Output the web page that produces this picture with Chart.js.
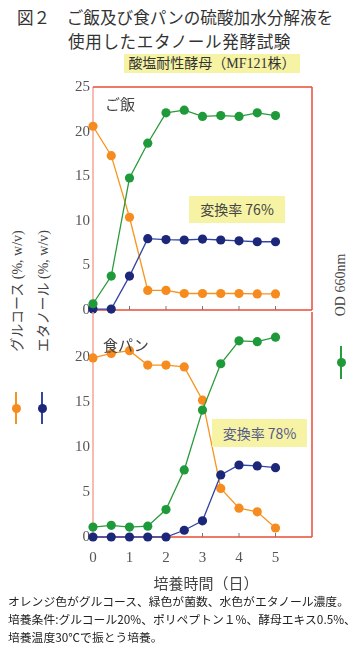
<!DOCTYPE html>
<html lang="ja">
<head>
<meta charset="utf-8">
<script src="https://cdn.jsdelivr.net/npm/chart.js@4.4.0/dist/chart.umd.min.js"></script>
<style>
    body { margin: 0; background: #fff; }
    #wrap { position: relative; width: 361px; height: 646px; overflow: hidden; font-family: "Noto Sans CJK JP", sans-serif; color: #333; }
    #wrap div { position: absolute; white-space: nowrap; }
    canvas { position: absolute; }
    .t1 { left: 17px; top: 6px; font-size: 16.6px; line-height: 22px; }
    .t2 { left: 68px; top: 30px; font-size: 16.6px; line-height: 22px; letter-spacing: 0.6px; }
    .sub { left: 124px; top: 54px; width: 176px; height: 19px; line-height: 19px; background: #f6f3a4; font-family: "Liberation Serif", "Noto Sans CJK JP", serif; font-size: 14px; text-align: center; }
    .panel { font-size: 15px; color: #444; }
    .rate { background: #f6f3a4; font-family: "Noto Sans CJK JP", sans-serif; font-size: 14px; text-align: center; }
    .vlab { font-family: "Liberation Serif", "Noto Sans CJK JP", serif; font-size: 14px; color: #444; transform: translate(-50%, -50%) rotate(-90deg); }
    .legline { width: 1.5px; }
    .legdot { width: 9px; height: 9px; border-radius: 50%; }
    .xtitle { left: 206px; top: 572px; transform: translateX(-50%); font-size: 15px; color: #444; }
    .note { left: 8px; top: 592px; font-size: 11.8px; line-height: 18px; color: #222; }
</style>
</head>
<body>
<div id="wrap">
    <div class="t1">図２　ご飯及び食パンの硫酸加水分解液を</div>
    <div class="t2">使用したエタノール発酵試験</div>
    <div class="sub">酸塩耐性酵母（MF121株）</div>

    <canvas id="riceChart" width="260" height="250" style="left:60px; top:75px; width:260px; height:250px;"></canvas>
    <canvas id="breadChart" width="260" height="270" style="left:60px; top:300px; width:260px; height:270px;"></canvas>

    <div class="panel" style="left:105px; top:93px;">ご飯</div>
    <div class="panel" style="left:103px; top:334px;">食パン</div>
    <div class="rate" style="left:189px; top:196px; width:96px; height:27px; line-height:27px; color:#444;">変換率 76%</div>
    <div class="rate" style="left:212px; top:419px; width:95px; height:28px; line-height:28px; color:#55598a;">変換率 78%</div>

    <!-- left legend -->
    <div class="vlab" style="left:16px; top:291px;">グルコース (%, w/v)</div>
    <div class="vlab" style="left:42px; top:291px;">エタノール (%, w/v)</div>
    <div class="legline" style="left:15px; top:392px; height:32px; background:#f7941d;"></div>
    <div class="legdot" style="left:11.5px; top:403.5px; background:#f68b1f;"></div>
    <div class="legline" style="left:41px; top:392px; height:32px; background:#3444a4;"></div>
    <div class="legdot" style="left:37.5px; top:403.5px; background:#1c2779;"></div>

    <!-- right legend -->
    <div class="vlab" style="left:341px; top:285px;">OD 660nm</div>
    <div class="legline" style="left:340px; top:346px; height:33px; background:#2a9a3a;"></div>
    <div class="legdot" style="left:336.5px; top:357.5px; background:#1f9a3a;"></div>

    <div class="xtitle">培養時間（日）</div>
    <div class="note">オレンジ色がグルコース、緑色が菌数、水色がエタノール濃度。<br>培養条件:グルコール20%、ポリペプトン１%、酵母エキス0.5%、<br>培養温度30℃で振とう培養。</div>
</div>

<script>
// 培養時間（日）
const days = [0, 0.5, 1, 1.5, 2, 2.5, 3, 3.5, 4, 4.5, 5];
const xTicks = [0, 1, 2, 3, 4, 5];
const yTicks = [0, 5, 10, 15, 20, 25];

// ご飯
const riceGlucose = [20.6, 17.3, 10.4, 2.2, 2.2, 1.85, 1.85, 1.85, 1.85, 1.8, 1.8];
const riceEthanol = [0.1, 0.1, 3.8, 8.0, 7.9, 7.85, 7.95, 7.85, 7.75, 7.65, 7.65];
const riceOD = [0.7, 3.8, 14.8, 18.7, 22.1, 22.4, 21.7, 21.8, 21.7, 22.1, 21.8];

// 食パン
const breadGlucose = [19.9, 20.4, 20.7, 19.1, 19.1, 18.9, 15.2, 5.4, 3.2, 2.8, 1.0];
const breadEthanol = [0, 0, 0, 0, 0, 0.75, 1.8, 6.9, 8.0, 7.9, 7.7];
const breadOD = [1.1, 1.3, 1.1, 1.2, 3.05, 7.45, 14.1, 19.25, 21.8, 21.7, 22.2];

const tickFont = { family: "'Liberation Serif', serif", size: 15 };

// frame + inward tick marks drawn from the chart's own scales
const framePlugin = {
    id: 'frame',
    beforeDatasetsDraw(chart, args, opts) {
        const { ctx, chartArea: { left, right, top, bottom } } = chart;
        const xs = chart.scales.x;
        const seg = (x1, y1, x2, y2) => { ctx.beginPath(); ctx.moveTo(x1, y1); ctx.lineTo(x2, y2); ctx.stroke(); };
        ctx.save();
        ctx.lineWidth = 1.5;
        ctx.strokeStyle = '#f6a594';
        seg(left, top, left, bottom);
        ctx.strokeStyle = '#ea4b36';
        if (opts.drawTop) seg(left, top, right, top);
        seg(right, top, right, bottom);
        seg(left, bottom, right, bottom);
        ctx.strokeStyle = '#777';
        ctx.lineWidth = 1;
        xTicks.forEach(v => {
            if (v > 0) {
                const px = xs.getPixelForValue(v);
                seg(px, bottom, px, bottom - 4);
            }
        });
        ctx.restore();
    }
};

const series = (values, color, lineColor, order) => ({
    data: days.map((d, i) => ({ x: d, y: values[i] })),
    borderColor: lineColor,
    backgroundColor: color,
    pointBackgroundColor: color,
    pointBorderWidth: 0,
    pointRadius: 4.6,
    borderWidth: 1.3,
    tension: 0,
    clip: false,
    order: order
});

const makeChart = (id, glucose, ethanol, od, isBottom) => {
    return new Chart(document.getElementById(id), {
        type: 'line',
        data: {
            datasets: [
                series(od, '#1f9a3a', '#2a9a3a', 0),
                series(ethanol, '#1c2779', '#3444a4', 1),
                series(glucose, '#f68b1f', '#f7941d', 2)
            ]
        },
        options: {
            responsive: false,
            animation: false,
            layout: { padding: isBottom ? { top: 10, right: 8, bottom: 0, left: 0 } : { top: 8, right: 8, bottom: 15, left: 0 } },
            plugins: {
                legend: { display: false },
                tooltip: { enabled: false },
                frame: { drawTop: !isBottom }
            },
            scales: {
                x: {
                    type: 'linear',
                    min: 0,
                    max: 6,
                    grid: { display: false, drawTicks: false },
                    border: { display: false },
                    afterBuildTicks: s => { s.ticks = xTicks.map(v => ({ value: v })); },
                    ticks: {
                        display: isBottom,
                        padding: 12,
                        font: tickFont,
                        color: '#555',
                        maxRotation: 0,
                        autoSkip: false
                    },
                    afterFit: s => { s.height = isBottom ? 33 : 0; }
                },
                y: {
                    min: 0,
                    max: 25,
                    grid: { display: false, drawTicks: false },
                    border: { display: false },
                    afterBuildTicks: s => { s.ticks = yTicks.map(v => ({ value: v })); },
                    ticks: {
                        padding: 3,
                        font: tickFont,
                        color: '#555',
                        callback: v => (isBottom && v === 25) ? '' : v
                    },
                    afterFit: s => { s.width = 33; }
                }
            }
        },
        plugins: [framePlugin]
    });
};

makeChart('riceChart', riceGlucose, riceEthanol, riceOD, false);
makeChart('breadChart', breadGlucose, breadEthanol, breadOD, true);
</script>
</body>
</html>
